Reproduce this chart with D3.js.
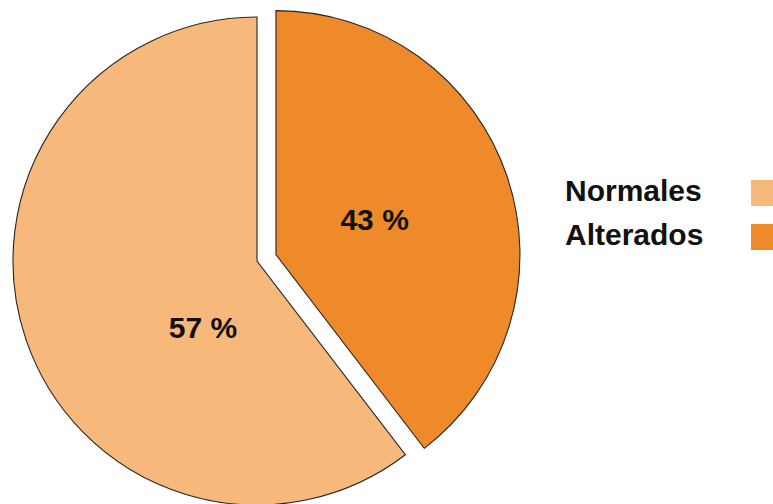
<!DOCTYPE html>
<html>
<head>
<meta charset="utf-8">
<script src="https://cdn.jsdelivr.net/npm/d3@7"></script>
<style>
  body { margin: 0; background: #fff; }
  text { font-family: "Liberation Sans", Arial, sans-serif; }
</style>
</head>
<body>
<svg id="chart" width="773" height="504"></svg>
<script>
// data
var categories = ["Normales", "Alterados"];
var percentLabels = [57, 43];          // printed labels
var wedgeShares = [60.4, 39.6];        // wedge sizes as drawn
var colors = ["#f6b87b", "#ee8a2a"];
var exploded = [0, 20];                // px offset per slice

var CX = 257, CY = 261, R = 244;

var svg = d3.select("#chart");

var total = d3.sum(wedgeShares);
var start = -2 * Math.PI * wedgeShares[0] / total;

var pie = d3.pie()
    .sort(null)
    .value(function(d){ return d.share; })
    .startAngle(start)
    .endAngle(start + 2 * Math.PI);

var arc = d3.arc().innerRadius(0).outerRadius(R);

var data = categories.map(function(c, i){
    return {name: c, share: wedgeShares[i], label: percentLabels[i], i: i};
});
var arcs = pie(data);

var g = svg.append("g").attr("transform", "translate(" + CX + "," + CY + ")");

var slice = g.selectAll(".slice")
    .data(arcs)
    .enter().append("g")
    .attr("class", "slice")
    .attr("transform", function(d){
        var mid = (d.startAngle + d.endAngle) / 2;
        var off = exploded[d.data.i];
        return "translate(" + (Math.sin(mid) * off) + "," + (-Math.cos(mid) * off) + ")";
    });

slice.append("path")
    .attr("d", arc)
    .attr("fill", function(d){ return colors[d.data.i]; })
    .attr("stroke", "#262626")
    .attr("stroke-width", 1.1);

// label placement: radius fraction and angle shift from the wedge middle
var LABEL_R = [0.35, 0.43];
var LABEL_SHIFT = [-0.56, -0.02]; // radians

slice.append("text")
    .attr("transform", function(d){
        var a = (d.startAngle + d.endAngle) / 2 + LABEL_SHIFT[d.data.i];
        var r = R * LABEL_R[d.data.i];
        return "translate(" + (Math.sin(a) * r) + "," + (-Math.cos(a) * r) + ")";
    })
    .attr("text-anchor", "middle")
    .attr("dy", "0.36em")
    .style("font-size", "30px")
    .style("font-weight", "bold")
    .attr("fill", "#111")
    .text(function(d){ return d.data.label + " %"; });

// legend
var legend = svg.append("g").attr("transform", "translate(565,178)");
var item = legend.selectAll(".item")
    .data(data)
    .enter().append("g")
    .attr("class", "item")
    .attr("transform", function(d, i){ return "translate(0," + (i * 44) + ")"; });

item.append("text")
    .attr("x", 0)
    .attr("y", 23)
    .style("font-size", "30px")
    .style("font-weight", "bold")
    .attr("fill", "#111")
    .text(function(d){ return d.name; });

item.append("rect")
    .attr("x", 186)
    .attr("y", 2)
    .attr("width", 24)
    .attr("height", 26)
    .attr("fill", function(d){ return colors[d.i]; });
</script>
</body>
</html>
